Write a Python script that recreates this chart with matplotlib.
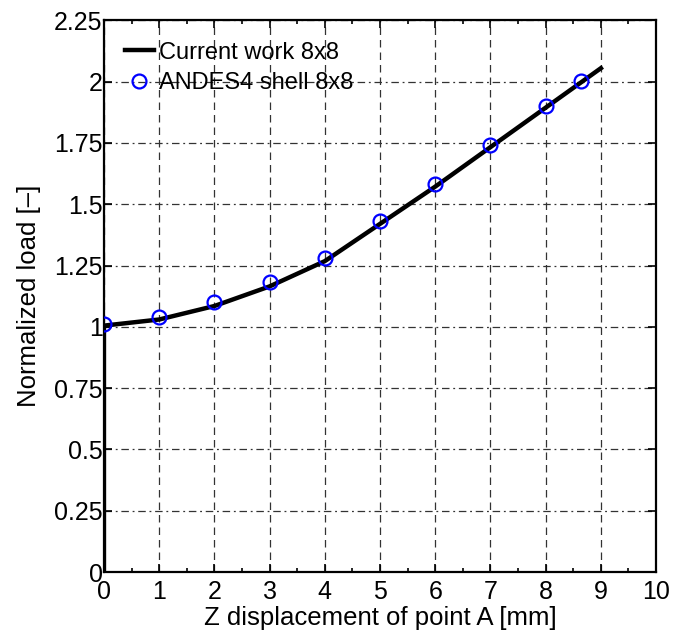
import numpy as np
import matplotlib
matplotlib.use("Agg")
import matplotlib.pyplot as plt
from matplotlib.ticker import MultipleLocator

# Current work 8x8 (solid line)
line_x = [0, 0, 1, 2, 3, 4, 5, 6, 7, 8, 9]
line_y = [0, 1.005, 1.03, 1.085, 1.165, 1.268, 1.42, 1.572, 1.733, 1.894, 2.055]

# ANDES4 shell 8x8 (circles)
ref_x = [0, 1, 2, 3, 4, 5, 6, 7, 8, 8.64]
ref_y = [1.012, 1.042, 1.10, 1.182, 1.282, 1.433, 1.583, 1.741, 1.902, 2.002]

x_ticks = list(range(0, 11))
y_ticks = [0, 0.25, 0.5, 0.75, 1, 1.25, 1.5, 1.75, 2, 2.25]
y_labels = ["0", "0.25", "0.5", "0.75", "1", "1.25", "1.5", "1.75", "2", "2.25"]

plt.rcParams['font.family'] = ['Liberation Sans', 'DejaVu Sans']

fig = plt.figure(figsize=(6.75, 6.37), dpi=100)
ax = fig.add_axes([0.154, 0.102, 0.818, 0.866])

# vertical jump at x=0, then the load curve
ax.plot(line_x, line_y, color='black', lw=3.2,
        label='Current work 8x8', zorder=3)
ax.plot(ref_x, ref_y, 'o', mfc='none', mec='blue', ms=10, mew=1.6,
        label='ANDES4 shell 8x8', zorder=4)

ax.set_xlim(0, 10)
ax.set_ylim(0, 2.25)
ax.set_xticks(x_ticks)
ax.set_yticks(y_ticks)
ax.set_yticklabels(y_labels)
ax.xaxis.set_minor_locator(MultipleLocator(0.5))

ax.xaxis.grid(True, color='#333333', lw=0.9, linestyle=(0, (6, 4)))
ax.yaxis.grid(True, color='#333333', lw=0.9, linestyle=(0, (6, 3, 1.5, 3)))

ax.tick_params(which='both', direction='in', top=True, right=True,
               labelsize=18, width=1.2)
ax.tick_params(axis='x', pad=6)
ax.tick_params(axis='y', pad=1)
ax.tick_params(which='major', length=6)
ax.tick_params(which='minor', length=3)
for s in ax.spines.values():
    s.set_linewidth(1.6)

ax.set_xlabel('Z displacement of point A [mm]', fontsize=18.5, labelpad=1)
ax.set_ylabel('Normalized load [\u2013]', fontsize=18.5, labelpad=9)

ax.legend(loc='upper left', frameon=False, fontsize=17, handlelength=1.2,
          handletextpad=0.25, borderaxespad=0.6, labelspacing=0.35,
          borderpad=0.3)

fig.savefig('out.png', dpi=100)
